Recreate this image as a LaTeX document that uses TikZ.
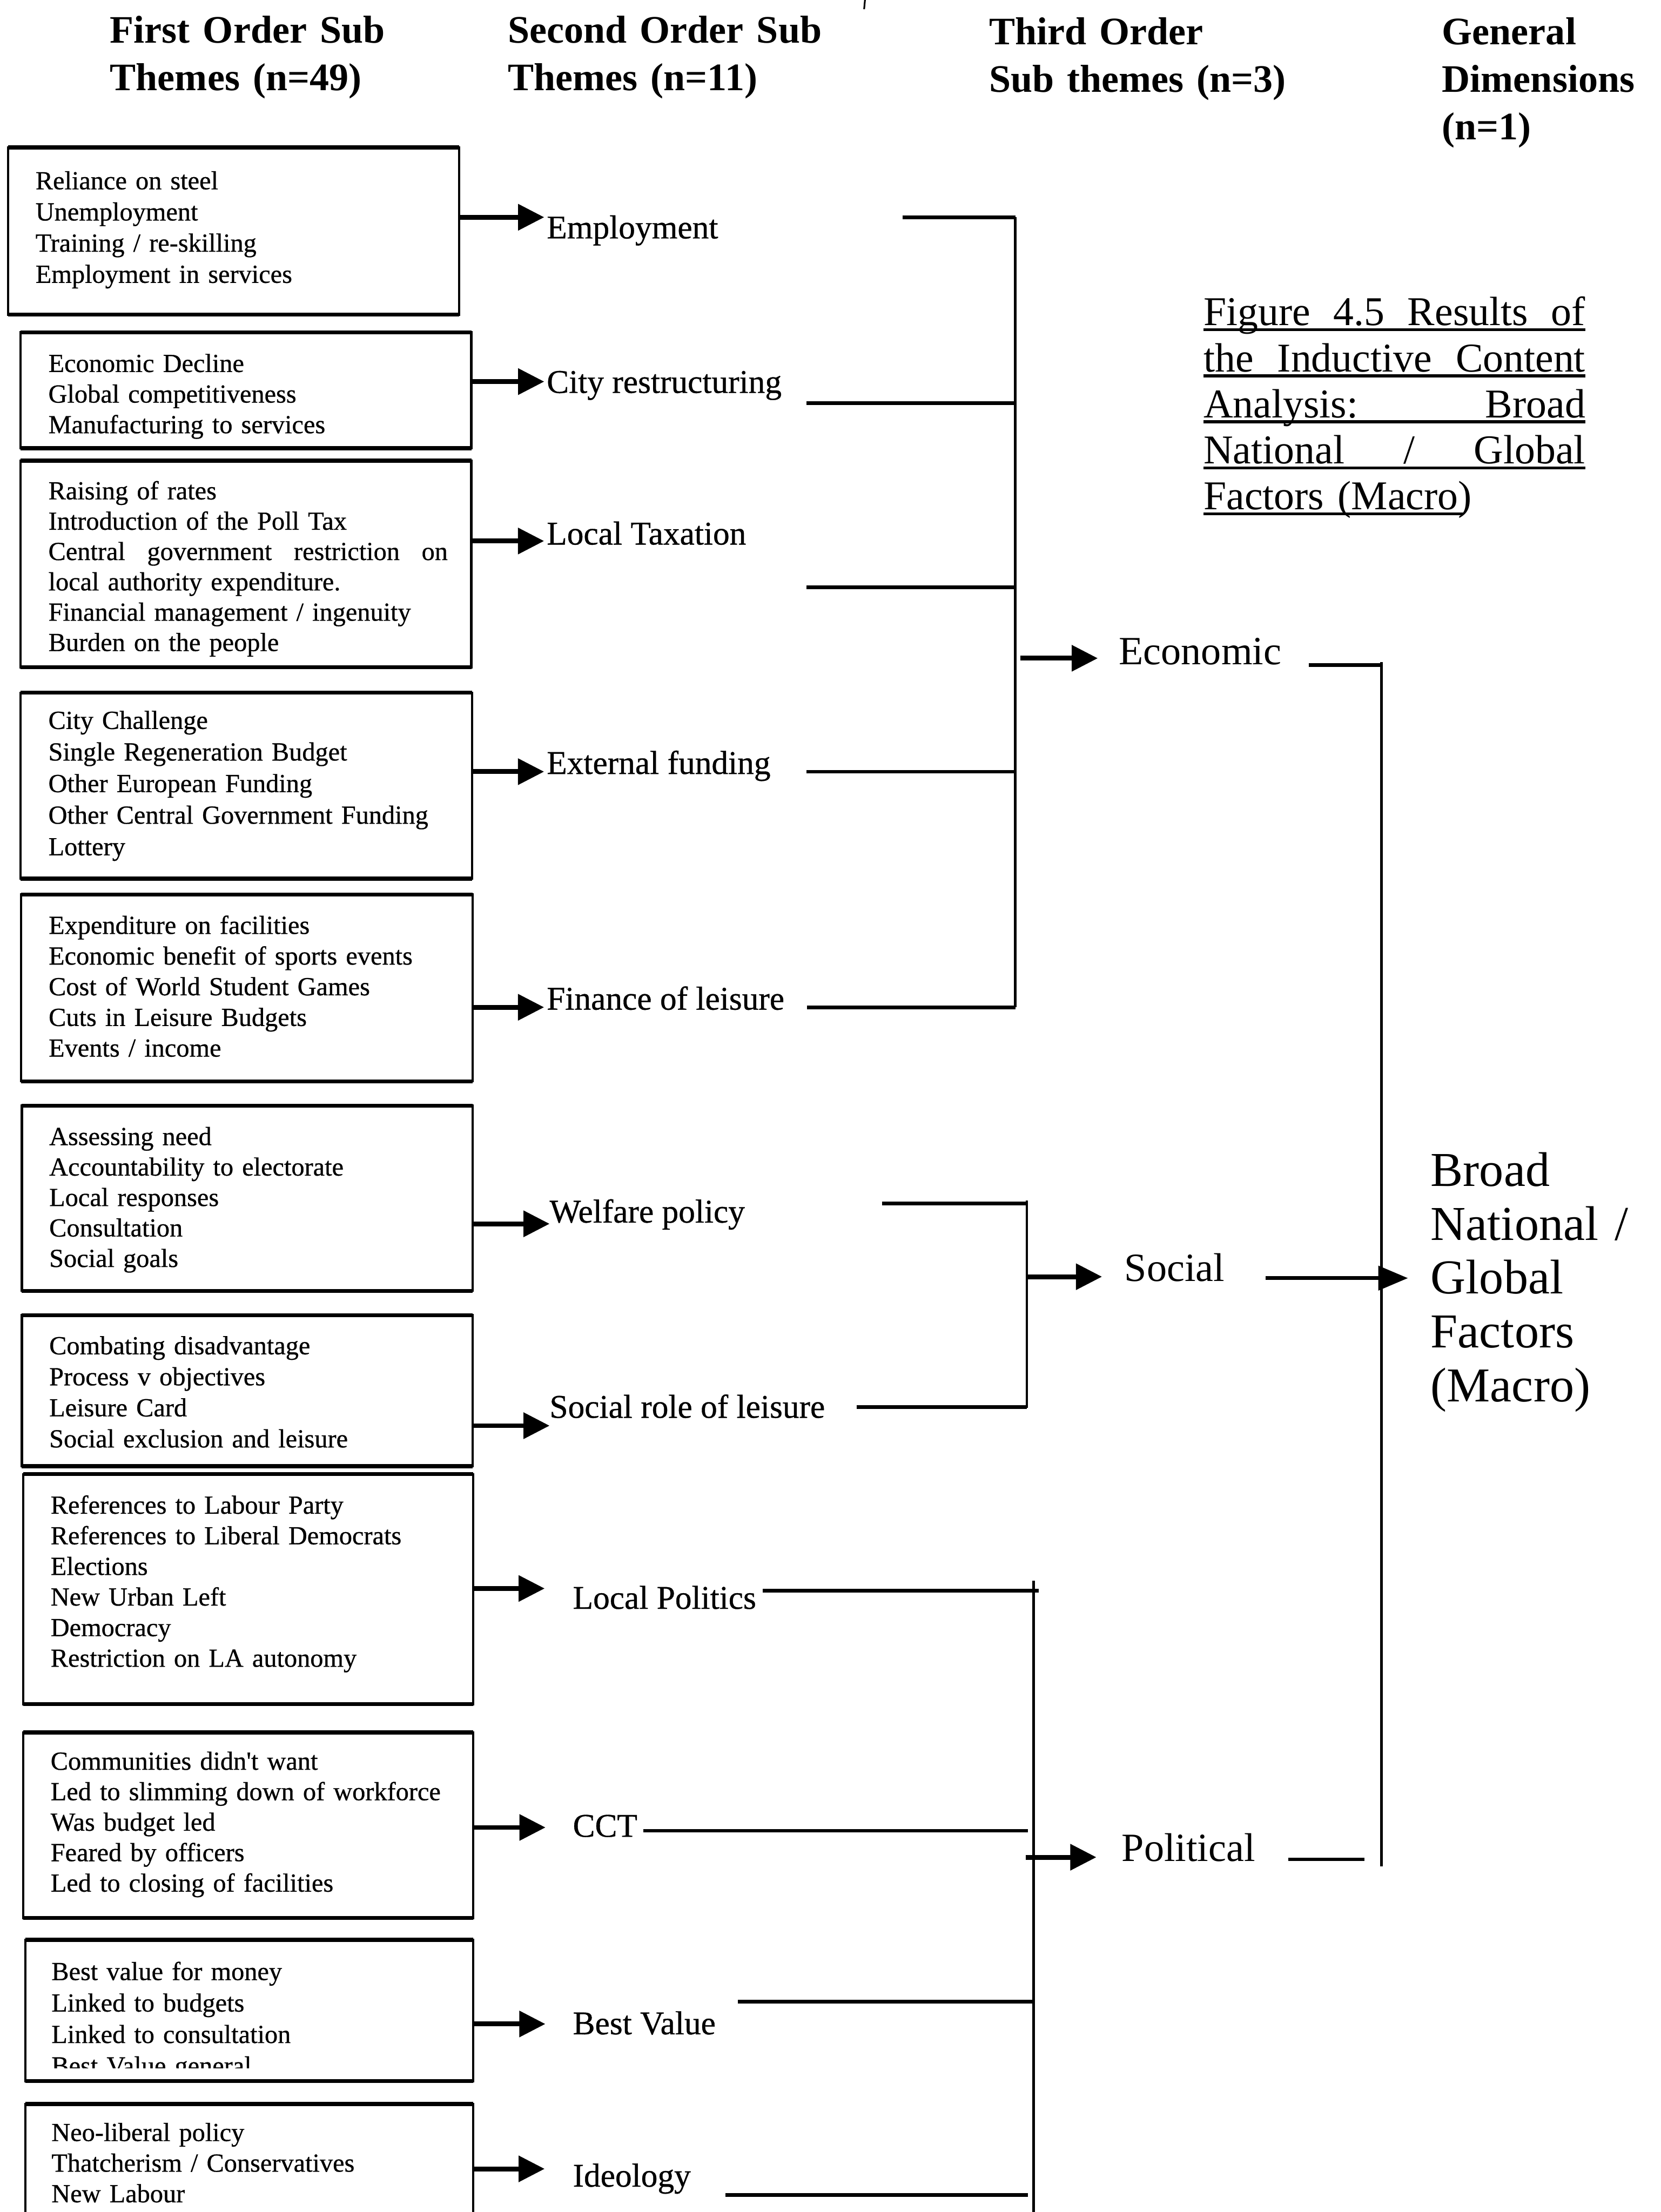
\documentclass[tikz,border=0pt]{standalone}
\usepackage{fontspec}
\setmainfont{Liberation Serif}
% slightly heavier face for the box entries and second order labels
\newfontfamily\heavyserif{Liberation Serif}[FakeBold=0.6]
\usetikzlibrary{arrows.meta,calc}

% theme box: name, left, top, right, bottom (y grows downwards)
\newcommand\themebox[5]{%
  \node[themeframe, minimum width={#4-#2}, minimum height={#5-#3}] (#1) at (#2,#3) {};}
% a line of text spread over a fixed width
\newcommand\spreadline[2]{\leavevmode\hbox to #1{#2}}

\tikzset{
  every node/.style={inner sep=0pt, outer sep=0pt},
  themeframe/.style={draw, line width=1.6, anchor=north west},
  frameedge/.style={line width=2.8},
  boxtext/.style={anchor=base west, text width=310, align=left,
    font=\heavyserif\fontsize{18.5}{#1}\selectfont},
  head/.style={anchor=base west, text width=260, align=left,
    font=\bfseries\fontsize{27.6}{33.7}\selectfont},
  sublabel/.style={anchor=base west, font=\heavyserif\fontsize{23.5}{28}\selectfont},
  thirdlabel/.style={anchor=base west, font=\fontsize{28.4}{34}\selectfont},
  genlabel/.style={anchor=base west, text width=160, align=left,
    font=\fontsize{34.5}{38.1}\selectfont},
  captext/.style={anchor=base west, text width=280, align=left,
    font=\fontsize{29}{32.6}\selectfont},
  arr/.style={line width=3.4, -{Triangle[length=18.5pt, width=18pt]}},
  bigarr/.style={line width=2.6, -{Triangle[length=21pt, width=17pt]}},
  hl/.style={line width=2.6},
  vl/.style={line width=1.8},
  uline/.style={line width=2},
}

\begin{document}
\begin{tikzpicture}[x=1pt, y=-1pt]
\useasboundingbox (0,0) rectangle (1177,1568);
\fill[white] (0,0) rectangle (1177,1568);
\clip (0,0) rectangle (1177,1568);

% column headings
\node[head] (h1) at (78,30.5)   {First Order Sub\\Themes (n=49)};
\node[head] (h2) at (360,30.5)  {Second Order Sub\\Themes (n=11)};
\node[head] (h3) at (701,31.5)  {Third Order\\Sub themes (n=3)};
\node[head] (h4) at (1022,31.5) {General\\Dimensions\\(n=1)};

% small stray mark at the top edge
\draw[line width=1.2] (613,0) -- (612.4,6.5);

% first order theme boxes
\themebox{b1}{5.8}{104.5}{325.5}{223}
\themebox{b2}{14.7}{235.5}{334}{317.7}
\themebox{b3}{14.7}{326.5}{334}{473}
\themebox{b4}{14.7}{491}{334.5}{622.8}
\themebox{b5}{15}{634}{335}{766.5}
\themebox{b6}{15.5}{783.8}{335}{915}
\themebox{b7}{15.5}{932.3}{335}{1039.3}
\themebox{b8}{16.5}{1045}{335.3}{1208}
\themebox{b9}{16.5}{1228}{335.3}{1359.6}
\themebox{b10}{17.9}{1375}{335.3}{1475.2}
\themebox{b11}{17.9}{1491.4}{335.3}{1620}
\foreach \i in {1,...,11}
  \draw[frameedge] (b\i.north west) -- (b\i.north east)
                   (b\i.south west) -- (b\i.south east);

\node[boxtext=22.1] (t1) at (25.2,134.2)
  {Reliance on steel\\Unemployment\\Training / re-skilling\\Employment in services};
\node[boxtext=21.7] (t2) at (34.3,263.7)
  {Economic Decline\\Global competitiveness\\Manufacturing to services};
\node[boxtext=21.5] (t3) at (34.3,354)
  {Raising of rates\\Introduction of the Poll Tax\\
   \spreadline{283pt}{Central \hfill government \hfill restriction \hfill on}\\
   local authority expenditure.\\Financial management / ingenuity\\Burden on the people};
\node[boxtext=22.4] (t4) at (34.3,516.7)
  {City Challenge\\Single Regeneration Budget\\Other European Funding\\
   Other Central Government Funding\\Lottery};
\node[boxtext=21.75] (t5) at (34.5,662)
  {Expenditure on facilities\\Economic benefit of sports events\\
   Cost of World Student Games\\Cuts in Leisure Budgets\\Events / income};
\node[boxtext=21.6] (t6) at (34.9,811.7)
  {Assessing need\\Accountability to electorate\\Local responses\\Consultation\\Social goals};
\node[boxtext=22] (t7) at (34.9,960)
  {Combating disadvantage\\Process v objectives\\Leisure Card\\Social exclusion and leisure};
\node[boxtext=21.7] (t8) at (35.9,1073)
  {References to Labour Party\\References to Liberal Democrats\\Elections\\
   New Urban Left\\Democracy\\Restriction on LA autonomy};
\node[boxtext=21.6] (t9) at (35.9,1254.5)
  {Communities didn't want\\Led to slimming down of workforce\\Was budget led\\
   Feared by officers\\Led to closing of facilities};
\node[boxtext=22.3] (t10) at (36.5,1403.6)
  {Best value for money\\Linked to budgets\\Linked to consultation};
\begin{scope}
  \clip (20,1440) rectangle (330,1466);
  \node[boxtext=22.3] (t10b) at (36.5,1470.5) {Best Value general};
\end{scope}
\node[boxtext=21.7] (t11) at (36.5,1517.7)
  {Neo-liberal policy\\Thatcherism / Conservatives\\New Labour};

% second order sub themes
\node[sublabel] (s1)  at (387.5,169)    {Employment};
\node[sublabel] (s2)  at (387.5,278.5)  {City restructuring};
\node[sublabel] (s3)  at (387.5,386)    {Local Taxation};
\node[sublabel] (s4)  at (387.5,548.6)  {External funding};
\node[sublabel] (s5)  at (387.5,715.7)  {Finance of leisure};
\node[sublabel] (s6)  at (389.5,866.6)  {Welfare policy};
\node[sublabel] (s7)  at (389.5,1005)   {Social role of leisure};
\node[sublabel] (s8)  at (406,1140.4)   {Local Politics};
\node[sublabel] (s9)  at (406,1302)     {CCT};
\node[sublabel] (s10) at (406,1442)     {Best Value};
\node[sublabel] (s11) at (406,1550)     {Ideology};

% arrow tips in front of the second order labels
\coordinate (p1)  at (385.7,154);
\coordinate (p2)  at (385.7,270.5);
\coordinate (p3)  at (385.6,383.5);
\coordinate (p4)  at (385.6,547);
\coordinate (p5)  at (385.6,714);
\coordinate (p6)  at (389.5,867.5);
\coordinate (p7)  at (389.5,1010.6);
\coordinate (p8)  at (386,1126);
\coordinate (p9)  at (386.6,1295.4);
\coordinate (p10) at (386.5,1434.7);
\coordinate (p11) at (386,1537.4);
\foreach \i in {1,...,11}
  \draw[arr] (b\i.east |- p\i) -- (p\i);

% third order sub themes
\node[thirdlabel] (eco) at (793,471)    {Economic};
\node[thirdlabel] (soc) at (797,908.4)  {Social};
\node[thirdlabel] (pol) at (795,1319.4) {Political};

% economic bracket
\coordinate (ecoTop) at (719.5,154);
\coordinate (ecoBot) at (719.5,714);
\coordinate (q1) at (639.5,154);
\coordinate (q2) at (571.6,285.8);
\coordinate (q3) at (571.6,416.4);
\coordinate (q4) at (571.6,547);
\coordinate (q5) at (572,714);
\draw[vl] (ecoTop) -- (ecoBot);
\foreach \i in {1,...,5}
  \draw[hl] (q\i) -- (q\i -| ecoTop);
\coordinate (ecoIn) at (723,466.6);
\coordinate (ecoTip) at (778,466.6);
\draw[arr] (ecoIn) -- (ecoTip);

% social bracket
\coordinate (socTop) at (727.7,851);
\coordinate (socBot) at (727.7,998);
\coordinate (q6) at (625,853);
\coordinate (q7) at (607,997.5);
\draw[vl] (socTop) -- (socBot);
\draw[hl] (q6) -- (q6 -| socTop);
\draw[hl] (q7) -- (q7 -| socTop);
\coordinate (socIn) at (728.5,905);
\coordinate (socTip) at (781,905);
\draw[arr] (socIn) -- (socTip);

% political bracket
\coordinate (polTop) at (732.4,1120.5);
\coordinate (polBot) at (732.4,1620);
\coordinate (q8)  at (540.6,1127.6);
\coordinate (q8e) at (736.3,1127.6);
\coordinate (q9)  at (455.8,1297.7);
\coordinate (q10) at (523,1419);
\coordinate (q11) at (514,1556);
\draw[vl] (polTop) -- (polBot);
\draw[hl] (q8) -- (q8e);
\draw[hl] (q9) -- ($(q9 -| polTop)+(-4,0)$);
\draw[hl] (q10) -- (q10 -| polTop);
\draw[hl] (q11) -- ($(q11 -| polTop)+(-4,0)$);
\coordinate (polIn) at (727,1316.5);
\coordinate (polTip) at (777,1316.5);
\draw[arr] (polIn) -- (polTip);

% general dimension
\node[genlabel] (gen) at (1014,841) {Broad\\National /\\Global\\Factors\\(Macro)};
\coordinate (genTop) at (979,469.5);
\coordinate (genBot) at (979,1323);
\draw[line width=2] (genTop) -- (genBot);
\coordinate (ecoOut) at (927.6,471.3);
\draw[hl] (ecoOut) -- (ecoOut -| genTop);
\coordinate (socOut) at (897,906);
\coordinate (genTip) at (997.8,906);
\draw[bigarr] (socOut) -- (genTip);
\coordinate (polOut) at (913,1318);
\coordinate (polEnd) at (967,1318);
\draw[hl] (polOut) -- (polEnd);

% figure caption with underlined lines
\node[captext] (cap) at (853,230.8)
  {\spreadline{270.5pt}{Figure \hfill 4.5 \hfill Results \hfill of}\\
   \spreadline{270.5pt}{the \hfill Inductive \hfill Content}\\
   \spreadline{270.5pt}{Analysis: \hfill Broad}\\
   \spreadline{270.5pt}{National \hfill / \hfill Global}\\
   Factors (Macro)};
\draw[uline] (853,233.8) -- (1123.5,233.8);
\draw[uline] (853,266.4) -- (1123.5,266.4);
\draw[uline] (853,299)   -- (1123.5,299);
\draw[uline] (853,331.6) -- (1123.5,331.6);
\draw[uline] (853,364.2) -- (1037,364.2);
\end{tikzpicture}
\end{document}
